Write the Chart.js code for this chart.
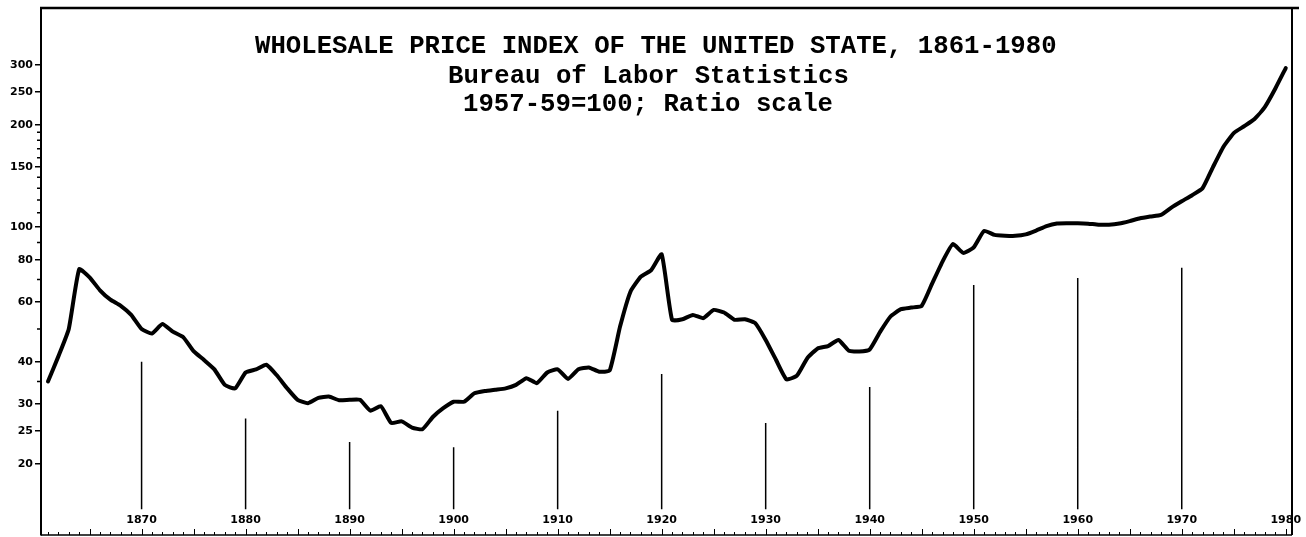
<!DOCTYPE html>
<html>
<head>
<meta charset="utf-8">
<script src="https://cdn.jsdelivr.net/npm/chart.js@4.4.1/dist/chart.umd.min.js"></script>
<style>
  body { margin: 0; background: #fff; }
  #wrap { width: 1306px; height: 537px; }
</style>
</head>
<body>
<div id="wrap"><canvas id="wpiChart" width="1306" height="537"></canvas></div>
<script>
// wholesale price index, 1957-59 = 100
var years = [];
for (var yr = 1861; yr <= 1980; yr++) years.push(yr);

var wpi = [
  35.0, 41.5, 50.0, 75.0, 71.0, 65.0, 61.0, 58.5, 55.0, 50.0,   // 1861-1870
  48.5, 51.7, 49.1, 47.3, 43.0, 40.5, 38.0, 34.2, 33.4, 37.2,   // 1871-1880
  38.0, 39.2, 36.5, 33.4, 30.9, 30.2, 31.3, 31.6, 30.8, 30.9,   // 1881-1890
  30.9, 28.7, 29.6, 26.4, 26.7, 25.6, 25.3, 27.5, 29.2, 30.5,   // 1891-1900
  30.5, 32.3, 32.8, 33.1, 33.4, 34.2, 35.8, 34.6, 37.2, 38.0,   // 1901-1910
  35.6, 38.0, 38.5, 37.4, 37.7, 50.8, 64.4, 71.3, 74.6, 83.0,   // 1911-1920
  53.2, 53.4, 55.0, 53.8, 56.9, 55.9, 53.2, 53.4, 52.0, 46.4,   // 1921-1930
  40.5, 35.5, 36.4, 41.0, 43.8, 44.5, 46.4, 43.1, 42.9, 43.5,   // 1931-1940
  49.0, 54.4, 57.2, 57.8, 58.5, 68.0, 79.0, 89.0, 83.8, 87.0,   // 1941-1950
  97.3, 94.7, 94.2, 94.1, 95.0, 97.5, 100.5, 102.3, 102.5, 102.5, // 1951-1960
  102.2, 101.5, 101.5, 102.3, 104.0, 106.0, 107.3, 108.5, 114.0, 119.0, // 1961-1970
  124.0, 130.0, 150.0, 172.0, 189.0, 198.0, 208.0, 226.0, 256.0, 294.0  // 1971-1980
];

var yTicks = [20, 25, 30, 40, 60, 80, 100, 150, 200, 250, 300];
var yMinor = [35, 50, 70, 90, 110, 120, 130, 140, 160, 170, 180, 190];

var decadeYears = [1870, 1880, 1890, 1900, 1910, 1920, 1930, 1940, 1950, 1960, 1970];
var decadeTops  = [40.0, 27.2, 23.2, 22.4, 28.7, 36.8, 26.4, 33.7, 67.4, 70.7, 75.7];
var decadeBase  = 14.7;
var decadeLabels = [1870, 1880, 1890, 1900, 1910, 1920, 1930, 1940, 1950, 1960, 1970, 1980];

var titleLines = [
  'WHOLESALE PRICE INDEX OF THE UNITED STATE, 1861-1980',
  'Bureau of Labor Statistics',
  '1957-59=100; Ratio scale'
];

var series = years.map(function(y, i){ return {x: y, y: wpi[i]}; });
var decadeMarks = [];
decadeYears.forEach(function(d, i){
  decadeMarks.push({x: d, y: decadeBase}, {x: d, y: decadeTops[i]}, {x: d, y: null});
});

var framePlugin = {
  id: 'frame',
  afterDatasetsDraw: function(chart){
    var ctx = chart.ctx, a = chart.chartArea;
    var xs = chart.scales.x, ys = chart.scales.y;
    ctx.save();
    ctx.strokeStyle = '#000';
    ctx.fillStyle = '#000';

    // top and right frame
    ctx.lineWidth = 2.5;
    ctx.beginPath();
    ctx.moveTo(a.left - 1, a.top);
    ctx.lineTo(a.right + 7, a.top);
    ctx.stroke();
    ctx.lineWidth = 2;
    ctx.beginPath();
    ctx.moveTo(a.right, a.top);
    ctx.lineTo(a.right, a.bottom);
    ctx.stroke();

    // bottom axis with yearly ticks
    ctx.lineWidth = 1.5;
    ctx.beginPath();
    ctx.moveTo(a.left, a.bottom);
    ctx.lineTo(a.right, a.bottom);
    ctx.stroke();
    ctx.lineWidth = 1;
    ctx.beginPath();
    years.forEach(function(y){
      var px = Math.round(xs.getPixelForValue(y)) + 0.5;
      var len = (y % 5 === 0) ? 6 : 3;
      ctx.moveTo(px, a.bottom);
      ctx.lineTo(px, a.bottom - len);
    });
    ctx.stroke();

    // minor ticks on the ratio axis
    ctx.lineWidth = 1.5;
    ctx.beginPath();
    yMinor.forEach(function(v){
      var py = ys.getPixelForValue(v);
      ctx.moveTo(a.left - 4, py);
      ctx.lineTo(a.left, py);
    });
    ctx.stroke();

    // decade labels
    ctx.font = 'bold 11px "DejaVu Sans"';
    ctx.textAlign = 'center';
    ctx.textBaseline = 'middle';
    decadeLabels.forEach(function(d){
      ctx.fillText(String(d), xs.getPixelForValue(d), a.bottom - 15);
    });

    // title block
    ctx.font = 'bold 25.7px "Liberation Mono"';
    ctx.textAlign = 'left';
    ctx.fillText(titleLines[0], 255, 47);
    ctx.fillText(titleLines[1], 448, 77);
    ctx.fillText(titleLines[2], 463, 105);
    ctx.restore();
  }
};

var ctx = document.getElementById('wpiChart').getContext('2d');
var wpiChart = new Chart(ctx, {
  type: 'line',
  data: {
    datasets: [{
      label: 'WPI',
      data: series,
      borderColor: '#000',
      borderWidth: 4,
      borderJoinStyle: 'round',
      borderCapStyle: 'round',
      pointRadius: 0,
      tension: 0.15,
      fill: false
    }, {
      label: 'decades',
      data: decadeMarks,
      borderColor: '#000',
      borderWidth: 1.5,
      pointRadius: 0,
      spanGaps: false,
      fill: false
    }]
  },
  options: {
    responsive: false,
    animation: false,
    layout: { padding: { top: 8, bottom: 2, right: 14, left: 0 } },
    plugins: {
      legend: { display: false },
      tooltip: { enabled: false },
      title: { display: false }
    },
    scales: {
      x: {
        type: 'linear',
        min: 1860.33,
        max: 1980.6,
        display: false
      },
      y: {
        type: 'logarithmic',
        min: 12.34,
        max: 442,
        afterBuildTicks: function(axis){
          axis.ticks = yTicks.map(function(v){ return {value: v}; });
        },
        afterFit: function(axis){
          axis.width = 41;
          axis.paddingTop = 0;
          axis.paddingBottom = 0;
        },
        border: { display: true, color: '#000', width: 2 },
        grid: { drawOnChartArea: false, drawTicks: true, tickLength: 6, color: '#000', lineWidth: 1.5 },
        ticks: {
          color: '#000',
          padding: 2,
          font: { family: 'DejaVu Sans', size: 11, weight: 'bold' },
          callback: function(v){ return String(v); }
        }
      }
    }
  },
  plugins: [framePlugin]
});
</script>
</body>
</html>
